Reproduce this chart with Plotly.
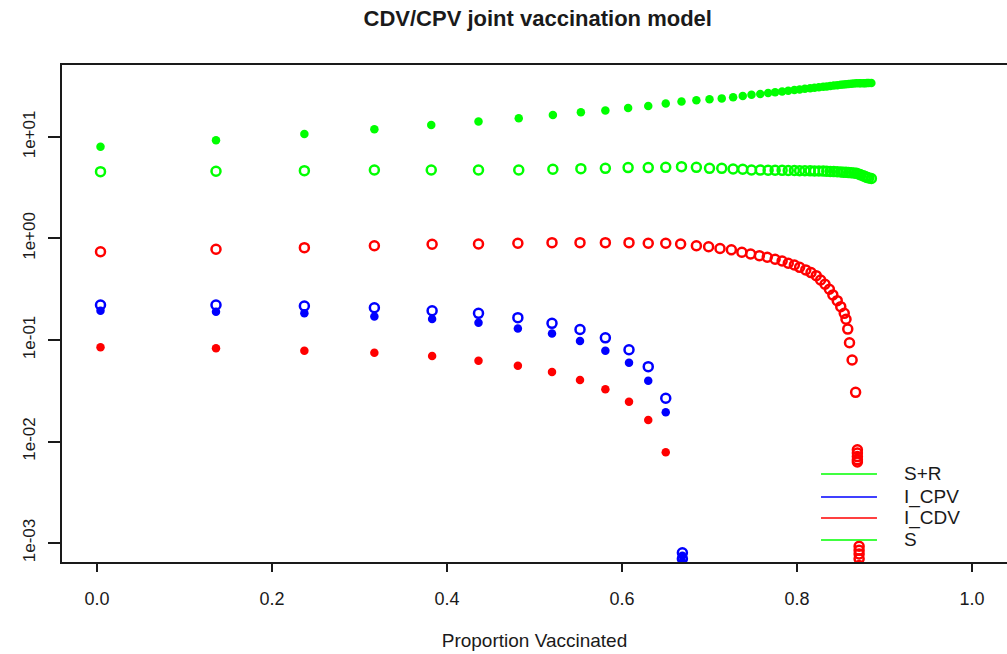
import plotly.graph_objects as go

# ---------------- data ----------------
# proportion vaccinated for the green series (S and S+R)
x_prop = [0.004, 0.136, 0.237, 0.317, 0.382, 0.436, 0.482, 0.521, 0.553, 0.581,
          0.607, 0.630, 0.650, 0.668, 0.685, 0.700, 0.714, 0.727, 0.738, 0.748,
          0.758, 0.767, 0.775, 0.783, 0.790, 0.797, 0.803, 0.809, 0.815, 0.820,
          0.825, 0.830, 0.834, 0.838, 0.842, 0.846, 0.850, 0.853, 0.856, 0.859,
          0.862, 0.865, 0.868, 0.871, 0.873, 0.876, 0.878, 0.880, 0.882, 0.885]

s_plus_r = [8.0, 9.3, 10.7, 11.9, 13.1, 14.2, 15.3, 16.5, 17.5, 18.2,
            19.3, 20.2, 21.4, 22.3, 23.0, 23.5, 24.0, 24.6, 25.3, 26.0,
            26.5, 27.1, 27.6, 28.1, 28.5, 29.0, 29.4, 29.8, 30.2, 30.5,
            30.9, 31.2, 31.5, 31.7, 32.1, 32.3, 32.7, 32.8, 33.0, 33.3,
            33.5, 33.7, 33.8, 33.8, 33.9, 33.9, 33.9, 34.0, 34.0, 34.0]

s_only = [4.55, 4.59, 4.66, 4.73, 4.73, 4.73, 4.73, 4.81, 4.87, 4.91,
          4.99, 4.99, 5.02, 5.10, 5.02, 4.91, 4.91, 4.84, 4.81, 4.73,
          4.72, 4.71, 4.70, 4.69, 4.68, 4.67, 4.66, 4.65, 4.64, 4.63,
          4.62, 4.61, 4.60, 4.58, 4.56, 4.54, 4.52, 4.50, 4.48, 4.46,
          4.44, 4.42, 4.38, 4.30, 4.22, 4.14, 4.06, 4.00, 3.95, 3.90]

# I_CDV (open red circles)
x_cdv_open = [0.004, 0.136, 0.237, 0.317, 0.383, 0.436, 0.481, 0.520, 0.552, 0.581,
              0.608, 0.630, 0.650, 0.667, 0.685, 0.699, 0.712, 0.725, 0.737, 0.747,
              0.757, 0.766, 0.775, 0.783, 0.790, 0.797, 0.803, 0.810, 0.816, 0.822,
              0.827, 0.832, 0.837, 0.841, 0.846, 0.850, 0.854, 0.856, 0.858, 0.860,
              0.863, 0.867,
              0.869, 0.869, 0.869, 0.869, 0.869,
              0.871, 0.871, 0.871, 0.871, 0.871]
i_cdv_open = [0.741, 0.783, 0.812, 0.849, 0.877, 0.883, 0.897, 0.910, 0.910, 0.910,
              0.910, 0.897, 0.897, 0.883, 0.849, 0.830, 0.796, 0.774, 0.731, 0.703,
              0.677, 0.653, 0.624, 0.600, 0.570, 0.548, 0.520, 0.490, 0.461, 0.430,
              0.390, 0.354, 0.316, 0.278, 0.244, 0.213, 0.183, 0.160, 0.128, 0.094,
              0.0635, 0.0305,
              0.0083, 0.0077, 0.0071, 0.0066, 0.0063,
              0.00093, 0.00085, 0.00078, 0.00070, 0.00060]

# I_CPV (open and filled blue) and filled I_CDV
x_cpv_open = [0.004, 0.136, 0.237, 0.317, 0.383, 0.436, 0.481, 0.520, 0.552, 0.581,
              0.608, 0.630, 0.650, 0.669, 0.669, 0.669]
i_cpv_open = [0.221, 0.221, 0.216, 0.208, 0.194, 0.183, 0.166, 0.146, 0.127, 0.105,
              0.0802, 0.0546, 0.0267, 0.00080, 0.00070, 0.00060]

x_cpv_filled = [0.004, 0.136, 0.237, 0.317, 0.383, 0.436, 0.481, 0.520, 0.552, 0.581,
                0.608, 0.630, 0.650, 0.669, 0.669]
i_cpv_filled = [0.194, 0.190, 0.183, 0.170, 0.161, 0.148, 0.130, 0.116, 0.0977, 0.0785,
                0.0598, 0.0397, 0.0194, 0.00075, 0.00065]

x_cdv_filled = [0.004, 0.136, 0.237, 0.317, 0.383, 0.436, 0.481, 0.520, 0.552, 0.581,
                0.608, 0.630, 0.650]
i_cdv_filled = [0.0848, 0.0828, 0.0785, 0.0750, 0.0696, 0.0625, 0.0558, 0.0484, 0.0404, 0.0327,
                0.0247, 0.0163, 0.00783]

x_ticks = [0.0, 0.2, 0.4, 0.6, 0.8, 1.0]
x_tick_labels = ["0.0", "0.2", "0.4", "0.6", "0.8", "1.0"]
y_ticks = [1e-3, 1e-2, 1e-1, 1e0, 1e1]
y_tick_labels = ["1e-03", "1e-02", "1e-01", "1e+00", "1e+01"]

legend_labels = ["S+R", "I_CPV", "I_CDV", "S"]
legend_colors = ["#00FF00", "#0000FF", "#FF0000", "#00FF00"]

GREEN, BLUE, RED = "#00FF00", "#0000FF", "#FF0000"
FONT = "Liberation Sans, Arial, sans-serif"
INK = "#1a1a1a"

fig = go.Figure()

def open_pts(x, y, color, name):
    fig.add_trace(go.Scatter(x=x, y=y, mode="markers", name=name, showlegend=False,
                             marker=dict(symbol="circle-open", size=9, color=color,
                                         line=dict(width=2.5, color=color))))

def filled_pts(x, y, color, name):
    fig.add_trace(go.Scatter(x=x, y=y, mode="markers", name=name, showlegend=False,
                             marker=dict(symbol="circle", size=8.5, color=color,
                                         line=dict(width=0))))

open_pts(x_prop, s_only, GREEN, "S")
filled_pts(x_prop, s_plus_r, GREEN, "S+R")
open_pts(x_cdv_open, i_cdv_open, RED, "I_CDV")
filled_pts(x_cdv_filled, i_cdv_filled, RED, "I_CDV")
open_pts(x_cpv_open, i_cpv_open, BLUE, "I_CPV")
filled_pts(x_cpv_filled, i_cpv_filled, BLUE, "I_CPV")

# manual legend (lines only, no box), like R's legend(bty="n")
shapes = []
annotations = []
leg_y = [0.1771, 0.1308, 0.0885, 0.0443]
for lab, col, yy in zip(legend_labels, legend_colors, leg_y):
    shapes.append(dict(type="line", xref="paper", yref="paper",
                       x0=0.8032, x1=0.8624, y0=yy, y1=yy,
                       line=dict(color=col, width=1.5)))
    annotations.append(dict(xref="paper", yref="paper", x=0.8889, y=yy,
                            text=lab, showarrow=False, xanchor="left", yanchor="middle",
                            font=dict(family=FONT, size=19, color=INK)))

fig.update_layout(
    width=1007, height=654,
    margin=dict(l=62, r=0, t=65, b=92),
    paper_bgcolor="white", plot_bgcolor="white",
    showlegend=False,
    font=dict(family=FONT, size=17, color=INK),
    title=dict(text="<b>CDV/CPV joint vaccination model</b>",
               x=0.534, xref="container", xanchor="center",
               y=1 - 18 / 654, yref="container", yanchor="middle",
               font=dict(family=FONT, size=22, color=INK)),
    shapes=shapes,
    annotations=annotations,
)

fig.update_xaxes(range=[-0.04, 1.04], tickvals=x_ticks, ticktext=x_tick_labels,
                 showgrid=False, zeroline=False,
                 showline=True, mirror=True, linecolor=INK, linewidth=1.5,
                 ticks="outside", ticklen=8, tickwidth=1.5, tickcolor=INK,
                 tickfont=dict(size=18), ticklabelstandoff=12,
                 title=dict(text="Proportion Vaccinated", standoff=25,
                            font=dict(size=19)))

fig.update_yaxes(type="log", range=[-3.187, 1.709], tickvals=y_ticks, ticktext=y_tick_labels,
                 showgrid=False, zeroline=False,
                 showline=True, linecolor=INK, linewidth=1.5,
                 ticks="outside", ticklen=12, tickwidth=1.5, tickcolor=INK,
                 tickangle=-90, tickfont=dict(size=17), ticklabelstandoff=6)

fig.write_html("out.html")
